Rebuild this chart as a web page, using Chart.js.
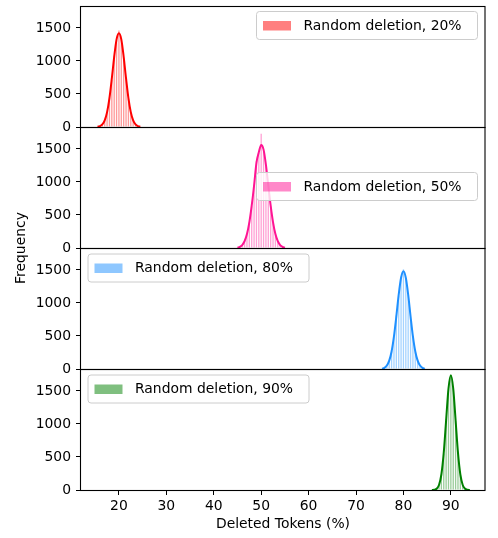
<!DOCTYPE html>
<html>
<head>
<meta charset="utf-8">
<script src="https://cdn.jsdelivr.net/npm/chart.js@4.4.1/dist/chart.umd.min.js"></script>
<style>
  body { margin: 0; background: #fff; }
  canvas { display: block; }
</style>
</head>
<body>
<canvas id="chart" width="498" height="538"></canvas>
<script>
// legend texts, one per panel (top to bottom)
const seriesNames = ["Random deletion, 20%", "Random deletion, 50%", "Random deletion, 80%", "Random deletion, 90%"];

// panel 1 (20%)
const binsA = [15.5, 16, 16.5, 17, 17.5, 18, 18.5, 19, 19.5, 20, 20.5, 21, 21.5, 22, 22.5, 23, 23.5, 24, 24.5];
const histA = [2, 10, 35, 95, 230, 445, 720, 1080, 1310, 1460, 1340, 1050, 750, 430, 215, 105, 40, 12, 3];
const kdeA = [4, 13, 39, 100, 225, 438, 735, 1064, 1328, 1420, 1328, 1064, 735, 438, 225, 100, 39, 13, 4];

// panel 2 (50%)
const binsB = [45, 45.5, 46, 46.5, 47, 47.5, 48, 48.5, 49, 49.5, 50, 50.5, 51, 51.5, 52, 52.5, 53, 53.5, 54, 54.5, 55];
const histB = [3, 15, 42, 110, 205, 395, 630, 960, 1320, 1440, 1730, 1460, 1240, 960, 630, 380, 220, 100, 40, 15, 4];
const kdeB = [6, 17, 45, 103, 211, 388, 641, 947, 1290, 1450, 1560, 1490, 1260, 947, 641, 388, 211, 103, 45, 17, 6];

// panel 3 (80%)
const binsC = [75.5, 76, 76.5, 77, 77.5, 78, 78.5, 79, 79.5, 80, 80.5, 81, 81.5, 82, 82.5, 83, 83.5, 84, 84.5];
const histC = [3, 15, 55, 120, 270, 480, 810, 1110, 1400, 1510, 1370, 1140, 780, 500, 260, 130, 48, 16, 4];
const kdeC = [6, 18, 52, 126, 266, 494, 798, 1125, 1382, 1480, 1382, 1125, 798, 494, 266, 126, 52, 18, 6];

// panel 4 (90%)
const binsD = [86, 86.5, 87, 87.5, 88, 88.5, 89, 89.5, 90, 90.5, 91, 91.5, 92, 92.5, 93, 93.5, 94];
const histD = [0, 3, 20, 70, 240, 550, 1070, 1520, 1746, 1550, 1040, 580, 225, 80, 18, 5, 0];
const kdeD = [1, 4, 19, 76, 235, 565, 1055, 1536, 1740, 1536, 1055, 565, 235, 76, 19, 4, 1];

const xTicks = [20, 30, 40, 50, 60, 70, 80, 90];
const yTicks = [0, 500, 1000, 1500];

const pts = (xs, ys) => xs.map((x, i) => ({ x: x, y: ys[i] }));

const panels = [
  { axis: "yA", bins: binsA, hist: histA, kde: kdeA, rgb: "255, 0, 0", side: "right", dy: 5.5 },
  { axis: "yB", bins: binsB, hist: histB, kde: kdeB, rgb: "255, 20, 147", side: "right", dy: 45.5 },
  { axis: "yC", bins: binsC, hist: histC, kde: kdeC, rgb: "30, 144, 255", side: "left", dy: 6 },
  { axis: "yD", bins: binsD, hist: histD, kde: kdeD, rgb: "0, 128, 0", side: "left", dy: 6 },
];

const FONT = "'DejaVu Sans', sans-serif";
Chart.defaults.font.family = FONT;
Chart.defaults.font.size = 13.9;
Chart.defaults.color = "#000";

let datasets = [];
panels.forEach((p) => {
  datasets.push({
    type: "line",
    data: pts(p.bins, p.kde),
    yAxisID: p.axis,
    borderColor: "rgb(" + p.rgb + ")",
    borderWidth: 2,
    pointRadius: 0,
    cubicInterpolationMode: "monotone",
    order: 0,
  });
  datasets.push({
    type: "bar",
    data: pts(p.bins, p.hist),
    yAxisID: p.axis,
    backgroundColor: "rgba(" + p.rgb + ", 0.4)",
    borderWidth: 0,
    grouped: false,
    barPercentage: 0.55,
    categoryPercentage: 1,
    order: 1,
  });
});

function yAxis() {
  return {
    type: "linear",
    position: "left",
    stack: "panels",
    stackWeight: 1,
    offset: false,
    min: 0,
    max: 1833,
    border: { display: false },
    grid: { drawOnChartArea: false, drawTicks: true, tickLength: 5, color: "#000" },
    ticks: { padding: 5, callback: (v) => String(v) },
    afterBuildTicks: (s) => { s.ticks = yTicks.map((v) => ({ value: v })); },
    afterFit: (s) => { s.width = 81; s.paddingTop = 0; s.paddingBottom = 0; },
  };
}

const decor = {
  id: "decor",
  afterDatasetsDraw(chart) {
    const ctx = chart.ctx;
    const { left, right } = chart.chartArea;
    ctx.save();
    // legends
    panels.forEach((p, i) => {
      const s = chart.scales[p.axis];
      const w = 221, h = 28;
      const bx = p.side === "right" ? right - 7.5 - w : left + 7;
      const by = s.top + p.dy;
      ctx.beginPath();
      ctx.roundRect(bx, by, w, h, 3);
      ctx.fillStyle = "rgba(255,255,255,0.8)";
      ctx.fill();
      ctx.strokeStyle = "#cccccc";
      ctx.lineWidth = 1;
      ctx.stroke();
      ctx.fillStyle = "rgba(" + p.rgb + ", 0.5)";
      ctx.fillRect(bx + 6.5, by + h / 2 - 4.5, 28, 9.5);
      ctx.fillStyle = "#000";
      ctx.font = "13.9px " + FONT;
      ctx.textAlign = "left";
      ctx.textBaseline = "middle";
      ctx.fillText(seriesNames[i], bx + 47, by + h / 2 + 0.5);
    });
    // frames
    ctx.strokeStyle = "#000";
    ctx.lineWidth = 1.1;
    panels.forEach((p) => {
      const s = chart.scales[p.axis];
      ctx.strokeRect(left - 0.5, s.top + 0.5, right - left + 0.5, s.bottom - s.top);
    });
    // shared y title
    ctx.translate(21, (chart.chartArea.top + chart.chartArea.bottom) / 2);
    ctx.rotate(-Math.PI / 2);
    ctx.textAlign = "center";
    ctx.textBaseline = "middle";
    ctx.font = "13.9px " + FONT;
    ctx.fillText("Frequency", 0, 0);
    ctx.restore();
  },
};

const config = {
  type: "bar",
  data: { datasets: datasets },
  options: {
    responsive: false,
    animation: false,
    devicePixelRatio: 1,
    layout: { padding: { top: 6, right: 13, left: 0, bottom: 0 } },
    plugins: { legend: { display: false }, tooltip: { enabled: false } },
    scales: {
      x: {
        type: "linear",
        min: 12,
        max: 97.2,
        offset: false,
        border: { display: false },
        grid: { offset: false, drawOnChartArea: false, drawTicks: true, tickLength: 5, color: "#000" },
        ticks: { padding: 3, maxRotation: 0, callback: (v) => String(v) },
        afterBuildTicks: (s) => { s.ticks = xTicks.map((v) => ({ value: v })); },
        title: { display: true, text: "Deleted Tokens (%)", padding: { top: 4, bottom: 5 } },
        afterFit: (s) => { s.height = 48; s.paddingLeft = 0; s.paddingRight = 0; },
      },
      yD: yAxis(),
      yC: yAxis(),
      yB: yAxis(),
      yA: yAxis(),
    },
  },
  plugins: [decor],
};

const chart = new Chart(document.getElementById("chart").getContext("2d"), config);
</script>
</body>
</html>
